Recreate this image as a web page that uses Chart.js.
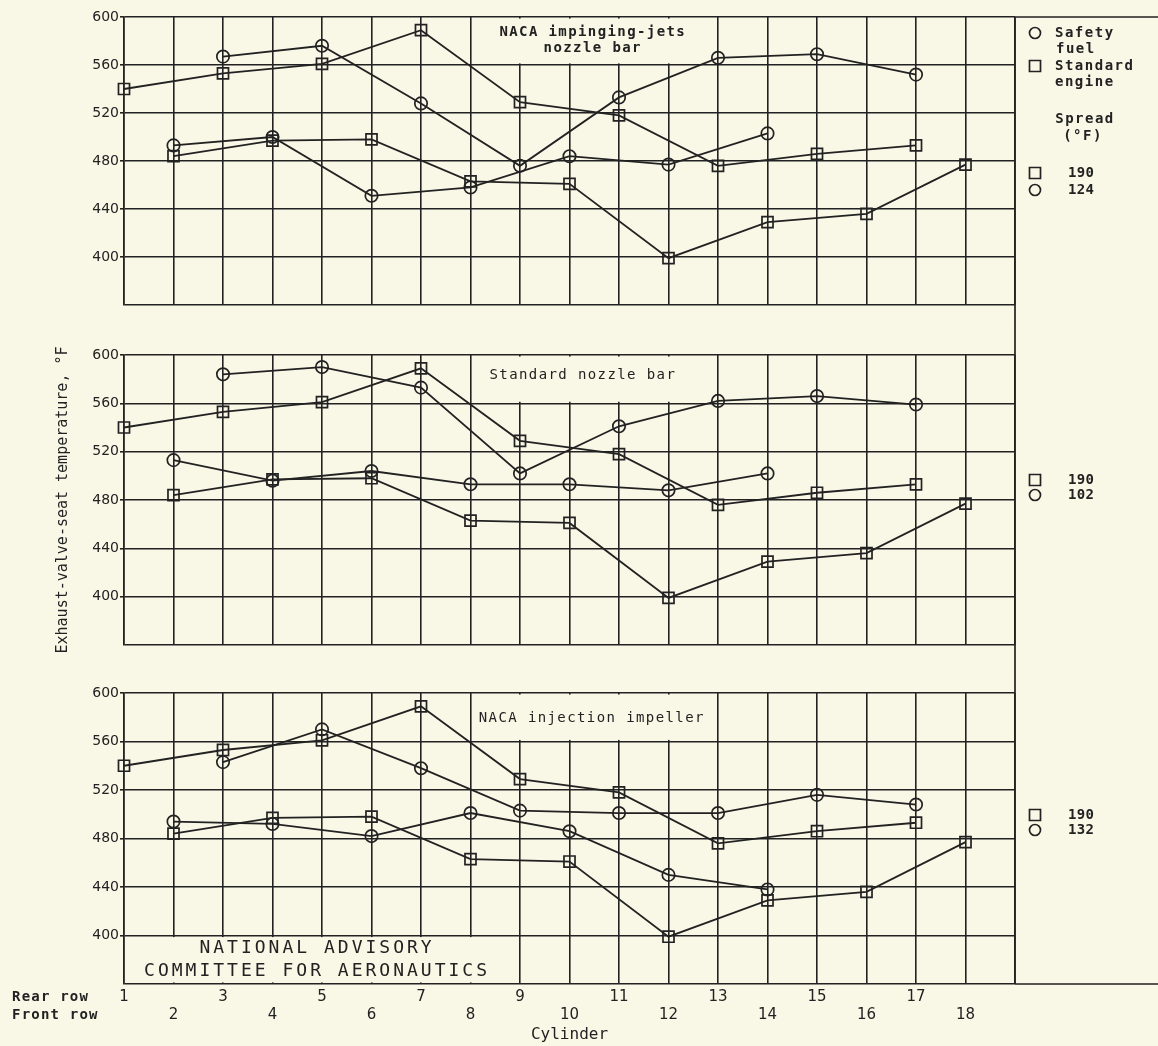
<!DOCTYPE html>
<html><head><meta charset="utf-8">
<script src="https://cdn.jsdelivr.net/npm/chart.js@4.4.1/dist/chart.umd.min.js"></script>
<style>
html,body{margin:0;padding:0;background:#f9f7e6;}
#wrap{position:relative;width:1158px;height:1046px;overflow:hidden;background:#f9f7e6;}
canvas{position:absolute;left:0;display:block;}
</style></head><body>
<div id="wrap">
<canvas id="cA" width="1158" height="330" style="top:0px"></canvas>
<canvas id="cB" width="1158" height="340" style="top:330px"></canvas>
<canvas id="cC" width="1158" height="376" style="top:670px"></canvas>
</div>
<script>
// ---------- data ----------
const rearCylinders  = [1, 3, 5, 7, 9, 11, 13, 15, 17];
const frontCylinders = [2, 4, 6, 8, 10, 12, 14, 16, 18];
const yTickValues = [360, 400, 440, 480, 520, 560, 600];

// Standard engine (squares), same in all three panels
const standardRear  = [540, 553, 561, 589, 529, 518, 476, 486, 493];
const standardFront = [484, 497, 498, 463, 461, 399, 429, 436, 477];

// Safety fuel (circles) - NACA impinging-jets nozzle bar
const impingingRear  = [null, 567, 576, 528, 476, 533, 566, 569, 552];
const impingingFront = [493, 500, 451, 458, 484, 477, 503, null, null];

// Safety fuel (circles) - Standard nozzle bar
const nozzleRear  = [null, 584, 590, 573, 502, 541, 562, 566, 559];
const nozzleFront = [513, 496, 504, 493, 493, 488, 502, null, null];

// Safety fuel (circles) - NACA injection impeller
const impellerRear  = [null, 543, 570, 538, 503, 501, 501, 516, 508];
const impellerFront = [494, 492, 482, 501, 486, 450, 438, null, null];

const panelTitles = [["NACA impinging-jets", "nozzle bar"], ["Standard nozzle bar"], ["NACA injection impeller"]];
const spreadValues = [["190", "124"], ["190", "102"], ["190", "132"]];
const yAxisTitle = "Exhaust-valve-seat temperature, \u00B0F";
const xAxisTitle = "Cylinder";
const rowLabels = ["Rear row", "Front row"];
const stampLines = ["NATIONAL ADVISORY", "COMMITTEE FOR AERONAUTICS"];
const legendSafety = ["Safety", "fuel"];
const legendStandard = ["Standard", "engine"];
const legendSpread = ["Spread", "(\u00B0F)"];

// ---------- style ----------
const INK = '#222222';
const PAPER = '#f9f7e6';
const MONO = "'DejaVu Sans Mono', monospace";
const SANS = "'DejaVu Sans', sans-serif";

function pts(cyls, vals) {
  return cyls.map((c, i) => ({ x: c, y: vals[i] })).filter(p => p.y !== null);
}
function ds(label, data, style) {
  return {
    label, data,
    borderColor: INK, borderWidth: 1.8, tension: 0, fill: false,
    pointStyle: style, pointRadius: style === 'rect' ? 7.8 : 6.2,
    pointBorderWidth: 1.7, pointBorderColor: INK,
    pointBackgroundColor: 'rgba(0,0,0,0)', clip: false
  };
}
function spaced(ctx, px) { if ('letterSpacing' in ctx) ctx.letterSpacing = px + 'px'; }

function drawMarker(ctx, type, x, y) {
  ctx.save();
  ctx.strokeStyle = INK; ctx.lineWidth = 1.7;
  ctx.beginPath();
  if (type === 'circle') ctx.arc(x, y, 5.5, 0, Math.PI * 2);
  else ctx.rect(x - 5.5, y - 5.5, 11, 11);
  ctx.stroke();
  ctx.restore();
}

function makeScales(bottom, withYTitle) {
  return {
    x: {
      type: 'linear', min: 1, max: 19,
      ticks: {
        display: bottom, stepSize: 1, autoSkip: false, maxRotation: 0, minRotation: 0,
        padding: 4, color: INK, font: { family: SANS, size: 15, lineHeight: 1.2 },
        callback: v => (v > 18 ? '' : (v % 2 ? [String(v), ''] : ['', String(v)]))
      },
      grid: { color: INK, lineWidth: 1.6, drawTicks: false },
      border: { display: false },
      title: bottom ? { display: true, text: xAxisTitle, color: INK,
        font: { family: MONO, size: 16, lineHeight: 1.2 }, padding: { top: 0, bottom: 2 } } : { display: false },
      afterFit: s => { s.height = bottom ? 62 : 0; }
    },
    y: {
      type: 'linear', min: 360, max: 600,
      afterBuildTicks: s => { s.ticks = yTickValues.map(v => ({ value: v })); },
      ticks: { padding: 1, color: INK, font: { family: SANS, size: 14 },
        callback: v => (v === 360 ? '' : String(v)) },
      grid: { color: INK, lineWidth: 1.6, tickLength: 4,
        tickColor: c => (c.tick && c.tick.value === 360 ? 'rgba(0,0,0,0)' : INK) },
      border: { display: true, color: INK, width: 1.6 },
      title: withYTitle ? { display: true, text: yAxisTitle, color: INK,
        font: { family: MONO, size: 15, lineHeight: 1.2 }, padding: { top: 54, bottom: 0 } } : { display: false },
      afterFit: s => { s.width = 124; }
    }
  };
}

function decor(cfg) {
  return {
    id: 'decor' + cfg.key,
    beforeDatasetsDraw(chart) {
      const { ctx, chartArea: a, scales: { x, y } } = chart;
      ctx.save();
      ctx.fillStyle = PAPER;
      cfg.cuts.forEach(c => {
        const x0 = x.getPixelForValue(c.x0), x1 = x.getPixelForValue(c.x1);
        const y0 = y.getPixelForValue(c.y0), y1 = y.getPixelForValue(c.y1);
        ctx.fillRect(Math.min(x0, x1), Math.min(y0, y1) + 1.6, Math.abs(x1 - x0), Math.abs(y1 - y0) - 3.2);
      });
      // outer frame
      ctx.strokeStyle = INK; ctx.lineWidth = 1.7;
      ctx.beginPath();
      const top = cfg.frameTop === 'area' ? a.top : 0;
      const bot = cfg.frameBottom === 'area' ? a.bottom : chart.height;
      ctx.moveTo(a.right, top); ctx.lineTo(a.right, bot);
      if (cfg.extendTop) { ctx.moveTo(a.right, a.top); ctx.lineTo(chart.width, a.top); }
      if (cfg.extendBottom) { ctx.moveTo(a.right, a.bottom); ctx.lineTo(chart.width, a.bottom); }
      ctx.stroke();
      // panel title
      ctx.fillStyle = INK; ctx.textAlign = 'center'; ctx.textBaseline = 'middle';
      ctx.font = (cfg.titleBold ? 'bold ' : '') + '14px ' + MONO;
      spaced(ctx, 1.4);
      cfg.title.forEach((t, i) => {
        ctx.fillText(t, x.getPixelForValue(cfg.titlePos.x), y.getPixelForValue(cfg.titlePos.y[i]));
      });
      if (cfg.stamp) {
        ctx.font = '18px ' + MONO; spaced(ctx, 3);
        cfg.stamp.forEach((t, i) => {
          ctx.fillText(t, x.getPixelForValue(cfg.stampPos.x), y.getPixelForValue(cfg.stampPos.y[i]));
        });
      }
      spaced(ctx, 0);
      ctx.restore();
    },
    afterDraw(chart) {
      const { ctx, chartArea: a } = chart;
      ctx.save();
      ctx.fillStyle = INK; ctx.textBaseline = 'middle';
      const mx = a.right + 20, nx = a.right + 53;
      if (cfg.legendTop) {
        ctx.font = 'bold 14px ' + MONO; spaced(ctx, 1.5); ctx.textAlign = 'left';
        drawMarker(ctx, 'circle', mx, 33);
        ctx.fillText(legendSafety[0], a.right + 40, 33);
        ctx.fillText(legendSafety[1], a.right + 41, 49);
        drawMarker(ctx, 'rect', mx, 66);
        ctx.fillText(legendStandard[0], a.right + 40, 66);
        ctx.fillText(legendStandard[1], a.right + 40, 82);
        ctx.textAlign = 'center';
        ctx.fillText(legendSpread[0], a.right + 70, 119);
        ctx.fillText(legendSpread[1], a.right + 68, 136);
      }
      ctx.font = 'bold 14px ' + MONO; spaced(ctx, 0.3); ctx.textAlign = 'left';
      drawMarker(ctx, 'rect', mx, cfg.spreadY[0]);
      drawMarker(ctx, 'circle', mx, cfg.spreadY[1]);
      ctx.fillText(cfg.spread[0], nx, cfg.spreadY[0]);
      ctx.fillText(cfg.spread[1], nx, cfg.spreadY[1]);
      if (cfg.rows) {
        ctx.font = 'bold 14px ' + MONO; spaced(ctx, 1.2);
        ctx.fillText(rowLabels[0], 12, a.bottom + 13);
        ctx.fillText(rowLabels[1], 12, a.bottom + 31);
      }
      spaced(ctx, 0);
      ctx.restore();
    }
  };
}

function makeChart(id, rear, front, cfg, pad, bottom, yTitle) {
  return new Chart(document.getElementById(id), {
    type: 'line',
    data: {
      datasets: [
        ds('Standard engine (rear)', pts(rearCylinders, standardRear), 'rect'),
        ds('Standard engine (front)', pts(frontCylinders, standardFront), 'rect'),
        ds('Safety fuel (rear)', pts(rearCylinders, rear), 'circle'),
        ds('Safety fuel (front)', pts(frontCylinders, front), 'circle')
      ]
    },
    options: {
      responsive: false, animation: false, devicePixelRatio: 1,
      layout: { padding: pad },
      plugins: { legend: { display: false }, tooltip: { enabled: false } },
      scales: makeScales(bottom, yTitle)
    },
    plugins: [decor(cfg)]
  });
}

makeChart('cA', impingingRear, impingingFront, {
  key: 'A', cuts: [{ x0: 8.6, x1: 12.4, y0: 600, y1: 560 }],
  frameTop: 'area', frameBottom: 'canvas', extendTop: true,
  title: panelTitles[0], titleBold: true, titlePos: { x: 10.47, y: [587.5, 574] },
  legendTop: true, spread: spreadValues[0], spreadY: [173, 190]
}, { top: 17, bottom: 25, left: 0, right: 143 }, false, false);

makeChart('cB', nozzleRear, nozzleFront, {
  key: 'B', cuts: [{ x0: 8.6, x1: 12.4, y0: 600, y1: 560 }],
  frameTop: 'canvas', frameBottom: 'canvas',
  title: panelTitles[1], titlePos: { x: 10.27, y: [583.5] },
  spread: spreadValues[1], spreadY: [150, 165]
}, { top: 25, bottom: 25, left: 0, right: 143 }, false, true);

makeChart('cC', impellerRear, impellerFront, {
  key: 'C', cuts: [{ x0: 8.6, x1: 12.4, y0: 600, y1: 560 }, { x0: 1.2, x1: 8.8, y0: 400, y1: 360 }],
  frameTop: 'canvas', frameBottom: 'area', extendBottom: true,
  title: panelTitles[2], titlePos: { x: 10.45, y: [578.7] },
  stamp: stampLines, stampPos: { x: 4.9, y: [389.3, 370.5] },
  spread: spreadValues[2], spreadY: [145, 160], rows: true
}, { top: 23, bottom: 0, left: 0, right: 143 }, true, false);
</script>
</body></html>
